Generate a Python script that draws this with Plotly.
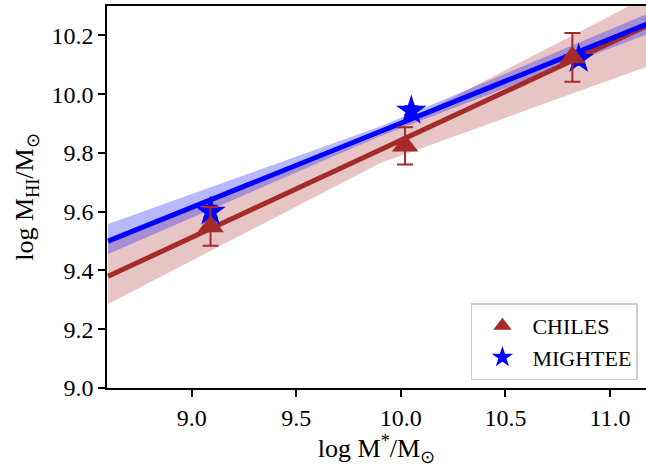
import plotly.graph_objects as go

# ---- data ----
chiles_x = [9.09, 10.02, 10.82]
chiles_y = [9.55, 9.824, 10.125]
chiles_err = [0.066, 0.063, 0.083]

mightee_x = [9.09, 10.05, 10.85]
mightee_y = [9.60, 9.944, 10.12]
mightee_err = [0.02, 0.015, 0.02]

# best-fit lines (endpoints across the axis range)
fit_x = [8.6, 11.2]
chiles_fit_y = [9.38, 10.24]
mightee_fit_y = [9.50, 10.245]

# uncertainty bands (lower / upper edges)
band_x = [8.6, 9.9, 11.2]
chiles_band_lo = [9.286, 9.765, 10.10]
chiles_band_hi = [9.497, 9.860, 10.34]
mightee_band_lo = [9.456, 9.857, 10.21]
mightee_band_hi = [9.558, 9.890, 10.28]

xtick_vals = [9.0, 9.5, 10.0, 10.5, 11.0]
xtick_text = ["9.0", "9.5", "10.0", "10.5", "11.0"]
ytick_vals = [9.0, 9.2, 9.4, 9.6, 9.8, 10.0, 10.2]
ytick_text = ["9.0", "9.2", "9.4", "9.6", "9.8", "10.0", "10.2"]

BROWN = "#A52A2A"
BLUE = "#0000FF"
FONT = "Liberation Serif"

fig = go.Figure()


def band(lo, hi, color):
    fig.add_trace(go.Scatter(x=band_x, y=lo, mode="lines", line=dict(width=0),
                             showlegend=False, hoverinfo="skip"))
    fig.add_trace(go.Scatter(x=band_x, y=hi, mode="lines", line=dict(width=0),
                             fill="tonexty", fillcolor=color,
                             showlegend=False, hoverinfo="skip"))


band(chiles_band_lo, chiles_band_hi, "rgba(165,42,42,0.27)")
band(mightee_band_lo, mightee_band_hi, "rgba(0,0,255,0.28)")

fig.add_trace(go.Scatter(x=fit_x, y=chiles_fit_y, mode="lines",
                         line=dict(color=BROWN, width=5), showlegend=False))
fig.add_trace(go.Scatter(x=fit_x, y=mightee_fit_y, mode="lines",
                         line=dict(color=BLUE, width=5), showlegend=False))

fig.add_trace(go.Scatter(x=mightee_x, y=mightee_y, mode="markers", name="MIGHTEE",
                         marker=dict(symbol="star", size=23, color=BLUE),
                         error_y=dict(type="data", array=mightee_err, color=BLUE,
                                      thickness=2, width=7), legendrank=2))
fig.add_trace(go.Scatter(x=chiles_x, y=chiles_y, mode="markers", name="CHILES",
                         marker=dict(symbol="triangle-up", size=23, color=BROWN),
                         error_y=dict(type="data", array=chiles_err, color=BROWN,
                                      thickness=2, width=8), legendrank=1))

axis_common = dict(showgrid=False, zeroline=False, showline=True, linecolor="black",
                   linewidth=1.5, ticks="outside", ticklen=7, tickwidth=1.5,
                   tickcolor="black", tickfont=dict(family=FONT, size=24, color="black"))

fig.update_layout(
    width=646, height=470,
    margin=dict(l=107, r=0, t=6, b=82),
    paper_bgcolor="white", plot_bgcolor="white",
    font=dict(family=FONT, size=24, color="#000000"),
    xaxis=dict(range=[8.595, 11.172], tickmode="array", tickvals=xtick_vals,
               ticktext=xtick_text, mirror=True,
               title=dict(text="log M<sup>*</sup>/M<sub>⊙</sub>",
                          font=dict(family=FONT, size=26), standoff=6),
               **axis_common),
    yaxis=dict(range=[9.0, 10.3], tickmode="array", tickvals=ytick_vals,
               ticktext=ytick_text,
               title=dict(text="log M<sub>HI</sub>/M<sub>⊙</sub>",
                          font=dict(family=FONT, size=26), standoff=10),
               **axis_common),
    legend=dict(x=0.985, y=0.02, xanchor="right", yanchor="bottom",
                bgcolor="white", bordercolor="#cccccc", borderwidth=1.5,
                itemwidth=50, traceorder="normal", tracegroupgap=0,
                font=dict(family=FONT, size=22, color="black")),
    showlegend=True,
)

fig.write_html("out.html")
